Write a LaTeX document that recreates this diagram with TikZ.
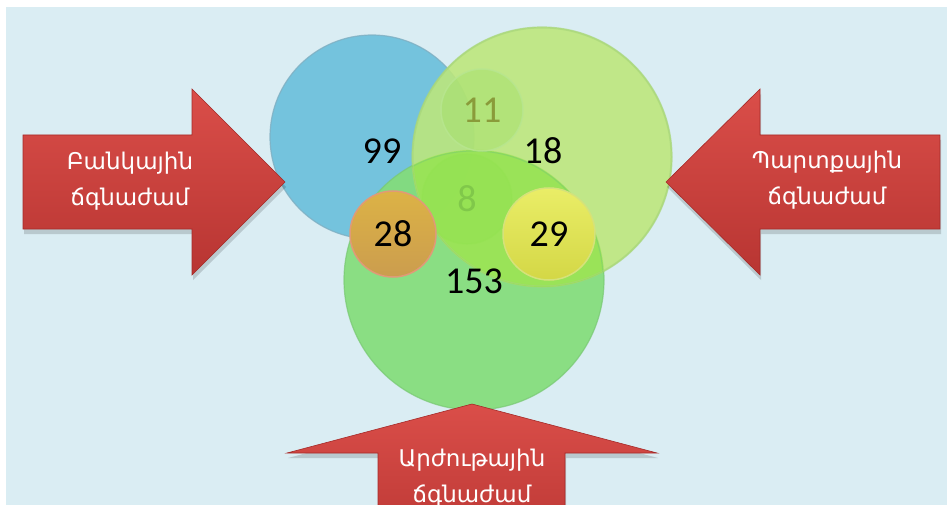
\documentclass[tikz,border=0pt]{standalone}
\usepackage{fontspec}
\newfontfamily\armfont{DejaVu Sans}
\newfontfamily\numfont{Carlito}
\definecolor{bgc}{HTML}{DAEDF3}
\definecolor{cblue}{HTML}{74C3DD}
\definecolor{cblueb}{HTML}{7FAFC2}
\definecolor{clg}{HTML}{BDE77A}
\definecolor{clgb}{HTML}{A6D57A}
\definecolor{cbg}{HTML}{84DD7A}
\definecolor{cbgb}{HTML}{78C872}
\definecolor{cint}{HTML}{93E350}
\definecolor{celf}{HTML}{A5E06B}
\definecolor{celb}{HTML}{B8E690}
\definecolor{celt}{HTML}{8A9B3A}
\definecolor{ceig}{HTML}{8FE04C}
\definecolor{ceigt}{HTML}{80C84A}
\definecolor{ctwe}{HTML}{D6A552}
\definecolor{ctweb}{HTML}{E09A78}
\definecolor{ctwn}{HTML}{E6EA4C}
\definecolor{ctwnb}{HTML}{D5E27A}
\definecolor{redtop}{HTML}{DA4E49}
\definecolor{redbot}{HTML}{B83532}
\definecolor{redline}{HTML}{A52A28}
\begin{document}
\begin{tikzpicture}[x=1pt,y=-1pt,
  bigc/.style={circle,inner sep=0pt,line width=1.2pt},
  smallc/.style={circle,inner sep=0pt,line width=1.5pt,font=\numfont\fontsize{38}{40}\selectfont},
  num/.style={font=\numfont\fontsize{38}{40}\selectfont,text=black},
  redarrow/.style={top color=redtop,bottom color=redbot,draw=redline,line width=0.6pt},
  arrshadow/.style={fill=black,opacity=0.15},
  armtext/.style={font=\armfont\fontsize{23}{36}\selectfont,text=white,align=center}]
\useasboundingbox (0,0) rectangle (947,505);
\clip (0,0) rectangle (947,505);
\fill[white] (0,0) rectangle (947,505);
\fill[bgc] (6,7) rectangle (947,505);

% big circles
\node[bigc,minimum size=204pt,fill=cblue,draw=cblueb,draw opacity=0.8] (blue) at (372,137) {};
\node[bigc,minimum size=260pt,fill=cbg,draw=cbgb,fill opacity=0.92,draw opacity=0.7] (bgr) at (474,280) {};
\node[bigc,minimum size=260pt,fill=clg,draw=clgb,fill opacity=0.88,draw opacity=0.7] (lgr) at (542,157) {};
\begin{scope}
  \clip (lgr.center) circle (130);
  \fill[cint,opacity=0.8] (bgr.center) circle (130);
  \draw[cbgb,opacity=0.5,line width=1pt] (bgr.center) circle (129);
\end{scope}
\draw[clgb,opacity=0.6,line width=1pt] (lgr.center) circle (129);

% small circles
\node[smallc,minimum size=82pt,fill=celf,fill opacity=0.5,draw=celb,draw opacity=0.8,text=celt,text opacity=1] (c11) at (482,110) {11};
\node[smallc,minimum size=90pt,fill=ceig,fill opacity=0.3,draw=cint,draw opacity=0.35,text=ceigt,text opacity=1] (c8) at (467,199) {8};
\node[smallc,minimum size=86pt,top color=ctwe!85!yellow,bottom color=ctwe!95!black,draw=ctweb,text=black] (c28) at (393,234) {28};
\node[smallc,minimum size=92pt,top color=ctwn!85!white,bottom color=ctwn!92!black,draw=ctwnb,text=black] (c29) at (549,234) {29};

% number labels
\node[num] (n99) at (382,151) {99};
\node[num] (n18) at (543,151) {18};
\node[num] (n153) at (474,281) {153};

% left arrow
\fill[arrshadow] (24,140) -- (193,140) -- (193,94) -- (286,187) -- (193,280) -- (193,234) -- (24,234) -- cycle;
\path[redarrow] (23,135) -- (192,135) -- (192,89) -- (285,182) -- (192,275) -- (192,229) -- (23,229) -- cycle;
\node[armtext] (tl) at (130,181) {Բանկային\\ճգնաժամ};

% right arrow
\fill[arrshadow] (941,140) -- (761,140) -- (761,94) -- (667,187) -- (761,280) -- (761,234) -- (941,234) -- cycle;
\path[redarrow] (940,135) -- (760,135) -- (760,89) -- (666,182) -- (760,275) -- (760,229) -- (940,229) -- cycle;
\node[armtext] (tr) at (827,180) {Պարտքային\\ճգնաժամ};

% bottom arrow
\fill[arrshadow] (473,409) -- (658,458) -- (566,458) -- (566,560) -- (379,560) -- (379,458) -- (288,458) -- cycle;
\path[redarrow] (472,404) -- (657,453) -- (565,453) -- (565,560) -- (378,560) -- (378,453) -- (287,453) -- cycle;
\node[armtext] (tb) at (472,478) {Արժութային\\ճգնաժամ};
\end{tikzpicture}
\end{document}
